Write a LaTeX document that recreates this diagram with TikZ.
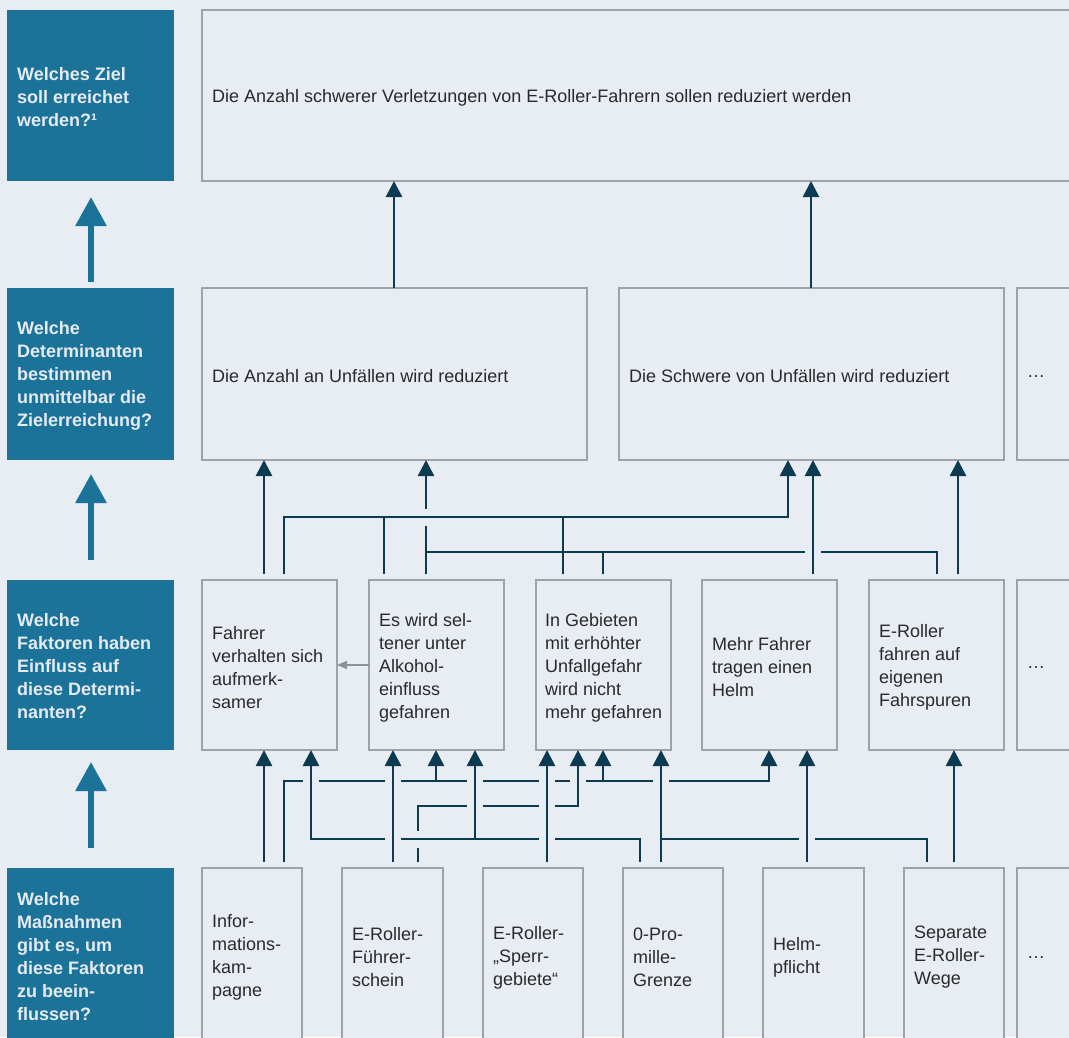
\documentclass[tikz,border=0pt]{standalone}
\usepackage{fontspec}
\setmainfont{Liberation Sans}
\usetikzlibrary{arrows.meta}
\definecolor{bg}{HTML}{E8ECF3}
\definecolor{boxgray}{HTML}{9EA2A9}
\definecolor{qblue}{HTML}{1C7399}
\definecolor{navy}{HTML}{0B3A51}
\definecolor{txtdark}{HTML}{2A2A2A}
\definecolor{qtext}{HTML}{E6EBF2}
\definecolor{graya}{HTML}{8C9198}
\newcommand\xingV[2]{\fill[bg] (#1-8,#2-3.5) rectangle (#1+8,#2+3.5);
  \draw[navy, line width=2.7pt] (#1,#2-9) -- (#1,#2+9);}
\newcommand\xingH[2]{\fill[bg] (#1-3.5,#2-8.5) rectangle (#1+3.5,#2+8.5);
  \draw[navy, line width=2.7pt] (#1-9,#2) -- (#1+9,#2);}
\begin{document}
\begin{tikzpicture}[x=1pt,y=-1pt,
  box/.style={draw=boxgray, line width=1.2pt, fill=bg, inner sep=0pt, outer sep=0pt, anchor=north west},
  qbox/.style={fill=qblue, inner sep=0pt, outer sep=0pt, anchor=north west},
  txt/.style={anchor=west, align=left, inner sep=0pt, yshift=-2.5pt, text=txtdark, font=\fontsize{18}{23}\selectfont},
  qtxt/.style={anchor=west, align=left, inner sep=0pt, yshift=-1.5pt, text=qtext, font=\fontsize{18}{23}\selectfont\bfseries},
  conn/.style={draw=navy, line width=2.7pt},
  lnk/.style={conn, shorten <=6pt},
  up/.style={conn, shorten <=6pt, -{Triangle[width=16pt,length=16pt]}},
  upj/.style={conn, -{Triangle[width=16pt,length=16pt]}},
  big/.style={draw=qblue, line width=6pt, -{Triangle[width=30pt,length=29pt]}},
]
\useasboundingbox (0,0) rectangle (1069,1037);
\fill[bg] (0,0) rectangle (1069,1037);

% column / row helper coordinates
\foreach \c in {91,264,284,311,384,393,394,418,426,436,475,547,563,578,603,640,661,769,788,807,811,813,927,937,954,958}
  {\coordinate (c\c) at (\c,0);}
\foreach \r in {517,552,781,806,839}
  {\coordinate (r\r) at (0,\r);}

% question boxes
\node[qbox, minimum width=167pt, minimum height=171pt] (q1) at (7,10) {};
\node[qbox, minimum width=167pt, minimum height=172pt] (q2) at (7,288) {};
\node[qbox, minimum width=167pt, minimum height=170pt] (q3) at (7,580) {};
\node[qbox, minimum width=167pt, minimum height=180pt] (q4) at (7,868) {};
\node[qtxt] at ([xshift=10pt]q1.west) {Welches Ziel\\soll erreichet\\werden?¹};
\node[qtxt] at ([xshift=10pt]q2.west) {Welche\\Determinanten\\bestimmen\\unmittelbar die\\Zielerreichung?};
\node[qtxt] at ([xshift=10pt]q3.west) {Welche\\Faktoren haben\\Einfluss auf\\diese Determi-\\nanten?};
\node[qtxt] at ([xshift=10pt]q4.north west |- 0,955) {Welche\\Maßnahmen\\gibt es, um\\diese Faktoren\\zu beein-\\flussen?};

\draw[big, shorten <=6pt, shorten >=16pt] (c91 |- q2.north) -- (c91 |- q1.south);
\draw[big, shorten <=20pt, shorten >=14pt] (c91 |- q3.north) -- (c91 |- q2.south);
\draw[big, shorten <=20pt, shorten >=12pt] (c91 |- q4.north) -- (c91 |- q3.south);

% goal
\node[box, minimum width=880pt, minimum height=171pt] (g) at (202,10) {};
\node[txt] at ([xshift=10pt]g.west) {Die Anzahl schwerer Verletzungen von E-Roller-Fahrern sollen reduziert werden};

% determinants
\node[box, minimum width=385pt, minimum height=172pt] (d1) at (202,288) {};
\node[box, minimum width=385pt, minimum height=172pt] (d2) at (619,288) {};
\node[box, minimum width=70pt, minimum height=172pt] (d3) at (1017,288) {};
\node[txt] at ([xshift=10pt]d1.west) {Die Anzahl an Unfällen wird reduziert};
\node[txt] at ([xshift=10pt]d2.west) {Die Schwere von Unfällen wird reduziert};
\node[txt] at ([xshift=10pt]d3.west) {…};

% factors
\node[box, minimum width=135pt, minimum height=170pt] (f1) at (202,580) {};
\node[box, minimum width=135pt, minimum height=170pt] (f2) at (369,580) {};
\node[box, minimum width=135pt, minimum height=170pt] (f3) at (536,580) {};
\node[box, minimum width=135pt, minimum height=170pt] (f4) at (702,580) {};
\node[box, minimum width=135pt, minimum height=170pt] (f5) at (869,580) {};
\node[box, minimum width=70pt, minimum height=170pt] (f6) at (1017,580) {};
\node[txt] at ([xshift=10pt]f1.west) {Fahrer\\verhalten sich\\aufmerk-\\samer};
\node[txt] at ([xshift=10pt]f2.west) {Es wird sel-\\tener unter\\Alkohol-\\einfluss\\gefahren};
\node[txt] at ([xshift=9pt]f3.west) {In Gebieten\\mit erhöhter\\Unfallgefahr\\wird nicht\\mehr gefahren};
\node[txt] at ([xshift=10pt]f4.west) {Mehr Fahrer\\tragen einen\\Helm};
\node[txt] at ([xshift=10pt]f5.west) {E-Roller\\fahren auf\\eigenen\\Fahrspuren};
\node[txt] at ([xshift=10pt]f6.west) {…};
\draw[draw=graya, line width=1.2pt, -{Triangle[width=8pt,length=10pt]}] (f2.west) -- (f1.east);

% measures
\node[box, minimum width=100pt, minimum height=180pt] (m1) at (202,868) {};
\node[box, minimum width=101pt, minimum height=180pt] (m2) at (342,868) {};
\node[box, minimum width=100pt, minimum height=180pt] (m3) at (483,868) {};
\node[box, minimum width=100pt, minimum height=180pt] (m4) at (623,868) {};
\node[box, minimum width=101pt, minimum height=180pt] (m5) at (763,868) {};
\node[box, minimum width=100pt, minimum height=180pt] (m6) at (904,868) {};
\node[box, minimum width=70pt, minimum height=180pt] (m7) at (1017,868) {};
\node[txt] at (212,955) {Infor-\\mations-\\kam-\\pagne};
\node[txt] at (352,955) {E-Roller-\\Führer-\\schein};
\node[txt] at (493,955) {E-Roller-\\„Sperr-\\gebiete“};
\node[txt] at (633,955) {0-Pro-\\mille-\\Grenze};
\node[txt] at (773,955) {Helm-\\pflicht};
\node[txt] at (914,955) {Separate\\E-Roller-\\Wege};
\node[txt] at (1027,955) {…};

% goal connectors
\draw[upj] (c394 |- d1.north) -- (c394 |- g.south);
\draw[upj] (c811 |- d2.north) -- (c811 |- g.south);

% factors -> determinants
\draw[up] (c264 |- f1.north) -- (c264 |- d1.south);
\draw[up] (c284 |- f1.north) -- (c284 |- r517) -- (c788 |- r517) -- (c788 |- d2.south);
\draw[lnk] (c384 |- f2.north) -- (c384 |- r517);
\draw[lnk] (c563 |- f3.north) -- (c563 |- r517);
\draw[up] (c426 |- f2.north) -- (c426 |- d1.south);
\draw[lnk] (c937 |- f5.north) -- (c937 |- r552) -- (c426 |- r552);
\draw[lnk] (c603 |- f3.north) -- (c603 |- r552);
\draw[up] (c813 |- f4.north) -- (c813 |- d2.south);
\draw[up] (c958 |- f5.north) -- (c958 |- d2.south);

% measures -> factors
\draw[up] (c264 |- m1.north) -- (c264 |- f1.south);
\draw[up] (c284 |- m1.north) -- (c284 |- r781) -- (c769 |- r781) -- (c769 |- f4.south);
\draw[upj] (c436 |- r781) -- (c436 |- f2.south);
\draw[upj] (c603 |- r781) -- (c603 |- f3.south);
\draw[up] (c393 |- m2.north) -- (c393 |- f2.south);
\draw[up] (c418 |- m2.north) -- (c418 |- r806) -- (c578 |- r806) -- (c578 |- f3.south);
\draw[up] (c547 |- m3.north) -- (c547 |- f3.south);
\draw[up] (c640 |- m4.north) -- (c640 |- r839) -- (c311 |- r839) -- (c311 |- f1.south);
\draw[upj] (c475 |- r839) -- (c475 |- f2.south);
\draw[up] (c661 |- m4.north) -- (c661 |- f3.south);
\draw[lnk] (c927 |- m6.north) -- (c927 |- r839) -- (c661 |- r839);
\draw[up] (c807 |- m5.north) -- (c807 |- f4.south);
\draw[up] (c954 |- m6.north) -- (c954 |- f5.south);

% crossings
\xingH{426}{517}
\xingV{813}{552}
\foreach \x in {311,393,475,547,578,661} {\xingV{\x}{781}}
\foreach \x in {475,547} {\xingV{\x}{806}}
\foreach \x in {393,547,807} {\xingV{\x}{839}}
\xingH{418}{839}
\end{tikzpicture}
\end{document}
